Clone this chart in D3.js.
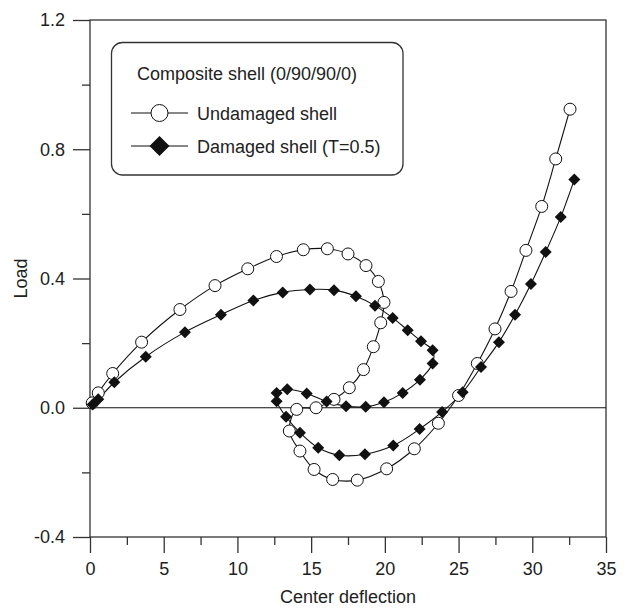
<!DOCTYPE html>
<html>
<head>
<meta charset="utf-8">
<script src="https://cdn.jsdelivr.net/npm/d3@7/dist/d3.min.js"></script>
<style>
  html, body { margin: 0; padding: 0; background: #fff; }
  svg { display: block; }
  text { font-family: "Liberation Sans", Arial, sans-serif; fill: #222; }
</style>
</head>
<body>
<svg id="chart" width="627" height="609"></svg>
<script>
// Load–deflection paths of the composite shell, [center deflection, load]
const undamaged = [
  [0.15, 0.015], [0.56, 0.046], [1.54, 0.106], [3.5, 0.203], [6.1, 0.304],
  [8.48, 0.378], [10.7, 0.43], [12.65, 0.468], [14.47, 0.489], [16.1, 0.492],
  [17.5, 0.476], [18.72, 0.44], [19.56, 0.391], [19.94, 0.326], [19.72, 0.263],
  [19.22, 0.189], [18.55, 0.118], [17.59, 0.062], [16.55, 0.026], [15.33, 0.0],
  [14.02, -0.005], [13.52, -0.072], [14.24, -0.134], [15.2, -0.191], [16.46, -0.222],
  [18.13, -0.224], [20.12, -0.189], [22.0, -0.127], [23.63, -0.048], [25.0, 0.038],
  [26.27, 0.137], [27.47, 0.244], [28.56, 0.36], [29.57, 0.487], [30.64, 0.623],
  [31.59, 0.77], [32.56, 0.924]
];

const damaged = [
  [0.18, 0.01], [0.56, 0.026], [1.65, 0.079], [3.78, 0.158], [6.44, 0.234],
  [8.88, 0.288], [11.08, 0.332], [13.07, 0.357], [14.92, 0.366], [16.55, 0.364],
  [18.04, 0.345], [19.33, 0.316], [20.53, 0.278], [21.55, 0.24], [22.45, 0.206],
  [23.24, 0.178], [23.24, 0.137], [22.38, 0.087], [21.21, 0.046], [19.94, 0.017],
  [18.7, 0.003], [17.37, 0.005], [16.05, 0.019], [14.7, 0.044], [13.38, 0.057],
  [12.66, 0.046], [12.66, 0.02], [13.3, -0.028], [14.24, -0.077], [15.48, -0.124],
  [16.91, -0.147], [18.65, -0.144], [20.57, -0.117], [22.36, -0.066], [23.88, -0.013],
  [25.28, 0.048], [26.52, 0.126], [27.74, 0.203], [28.83, 0.288], [29.91, 0.383],
  [30.91, 0.482], [31.93, 0.59], [32.85, 0.706]
];

const xMajorTicks = [0, 5, 10, 15, 20, 25, 30, 35];
const xMinorTicks = [2.5, 7.5, 12.5, 17.5, 22.5, 27.5, 32.5];
const yMajorTicks = [-0.4, 0.0, 0.4, 0.8, 1.2];
const yMinorTicks = [-0.2, 0.2, 0.6, 1.0];

const legendTitle = "Composite shell (0/90/90/0)";
const seriesNames = ["Undamaged shell", "Damaged shell (T=0.5)"];

const svg = d3.select("#chart");
const plotBox = { left: 90, right: 606, top: 20, bottom: 537 };

const x = d3.scaleLinear().domain([0, 35]).range([plotBox.left, plotBox.right]);
const y = d3.scaleLinear().domain([-0.4, 1.2]).range([plotBox.bottom, plotBox.top]);

// plain hyphen for negative tick labels
const fmt = d3.formatLocale({ decimal: ".", thousands: ",", grouping: [3],
  currency: ["", ""], minus: "-" });

const axisColor = "#333";

// frame
svg.append("rect")
  .attr("x", plotBox.left).attr("y", plotBox.top)
  .attr("width", plotBox.right - plotBox.left).attr("height", plotBox.bottom - plotBox.top)
  .attr("fill", "none").attr("stroke", axisColor).attr("stroke-width", 1.3);

// zero load line
svg.append("line")
  .attr("x1", x(0)).attr("x2", x(35))
  .attr("y1", y(0)).attr("y2", y(0))
  .attr("stroke", "#111").attr("stroke-width", 1);

// bottom axis
const xAxis = svg.append("g").attr("transform", `translate(0,${plotBox.bottom})`);
xAxis.call(d3.axisBottom(x).tickValues(xMajorTicks).tickSize(16).tickPadding(9)
  .tickFormat(fmt.format("d")));
xAxis.append("g").call(d3.axisBottom(x).tickValues(xMinorTicks).tickSize(8).tickFormat(""));
xAxis.selectAll(".domain").remove();

// left axis
const yAxis = svg.append("g").attr("transform", `translate(${plotBox.left},0)`);
yAxis.call(d3.axisLeft(y).tickValues(yMajorTicks).tickSize(17).tickPadding(8)
  .tickFormat(fmt.format(".1f")));
yAxis.append("g").call(d3.axisLeft(y).tickValues(yMinorTicks).tickSize(8).tickFormat(""));
yAxis.selectAll(".domain").remove();

svg.selectAll(".tick line").attr("stroke", axisColor).attr("stroke-width", 1.3);
svg.selectAll(".tick text")
  .attr("font-size", 18)
  .attr("font-family", "Liberation Sans, Arial, sans-serif")
  .attr("fill", "#222");

// axis titles
svg.append("text")
  .attr("x", (plotBox.left + plotBox.right) / 2).attr("y", 603)
  .attr("text-anchor", "middle").attr("font-size", 18)
  .text("Center deflection");
svg.append("text")
  .attr("transform", `translate(27,${(plotBox.top + plotBox.bottom) / 2}) rotate(-90)`)
  .attr("text-anchor", "middle").attr("font-size", 18)
  .text("Load");

// curves
const line = d3.line()
  .x(d => x(d[0])).y(d => y(d[1]))
  .curve(d3.curveCatmullRom.alpha(0.5));

const plot = svg.append("g");
[undamaged, damaged].forEach(series => {
  plot.append("path")
    .attr("d", line(series))
    .attr("fill", "none").attr("stroke", "#111").attr("stroke-width", 1.1);
});

const diamondPath = r => `M0,${-r}L${r},0L0,${r}L${-r},0Z`;

plot.selectAll("circle.und")
  .data(undamaged).join("circle")
  .attr("class", "und")
  .attr("cx", d => x(d[0])).attr("cy", d => y(d[1]))
  .attr("r", 6)
  .attr("fill", "#fff").attr("stroke", "#111").attr("stroke-width", 1);

plot.selectAll("path.dam")
  .data(damaged).join("path")
  .attr("class", "dam")
  .attr("transform", d => `translate(${x(d[0])},${y(d[1])})`)
  .attr("d", diamondPath(6))
  .attr("fill", "#111");

// legend
const lg = svg.append("g");
lg.append("rect")
  .attr("x", 111.5).attr("y", 42.5)
  .attr("width", 291.5).attr("height", 132.5)
  .attr("rx", 11).attr("ry", 11)
  .attr("fill", "#fff").attr("stroke", axisColor).attr("stroke-width", 1.3);
lg.append("text")
  .attr("x", 137).attr("y", 80).attr("font-size", 18)
  .text(legendTitle);

const rows = [113, 146];
rows.forEach((ry, i) => {
  lg.append("line")
    .attr("x1", 131).attr("x2", 188)
    .attr("y1", ry).attr("y2", ry)
    .attr("stroke", "#111").attr("stroke-width", 1.1);
  if (i === 0) {
    lg.append("circle")
      .attr("cx", 159.5).attr("cy", ry).attr("r", 8.5)
      .attr("fill", "#fff").attr("stroke", "#111").attr("stroke-width", 1);
  } else {
    lg.append("path")
      .attr("transform", `translate(159.5,${ry})`)
      .attr("d", diamondPath(10))
      .attr("fill", "#111");
  }
  lg.append("text")
    .attr("x", 197).attr("y", ry + 6.5).attr("font-size", 18)
    .text(seriesNames[i]);
});
</script>
</body>
</html>
